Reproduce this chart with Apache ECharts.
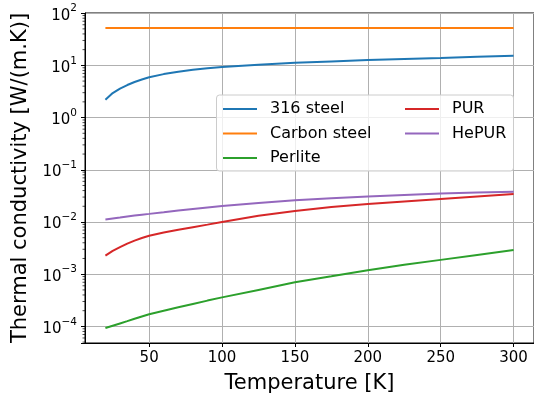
<!DOCTYPE html>
<html><head><meta charset="utf-8">
<script src="https://cdn.jsdelivr.net/npm/echarts@6/dist/echarts.min.js"></script>
<style>html,body{margin:0;padding:0;background:#fff}#c{width:534px;height:399px}</style>
</head><body><div id="c"></div>
<script>
const temperature = [20, 25, 30, 35, 40, 45, 50, 60, 70, 80, 90, 100, 125, 150, 175, 200, 225, 250, 275, 300];
const steel316    = [2.2, 2.95, 3.6, 4.2, 4.8, 5.35, 5.9, 6.8, 7.55, 8.2, 8.8, 9.3, 10.3, 11.2, 11.9, 12.6, 13.3, 13.9, 14.6, 15.3];
const carbonSteel = [52, 52, 52, 52, 52, 52, 52, 52, 52, 52, 52, 52, 52, 52, 52, 52, 52, 52, 52, 52];
const perlite     = [9.3e-5, 1.03e-4, 1.14e-4, 1.26e-4, 1.40e-4, 1.55e-4, 1.71e-4, 2.0e-4, 2.32e-4, 2.69e-4, 3.12e-4, 3.6e-4, 5.0e-4, 6.98e-4, 9.1e-4, 1.19e-3, 1.51e-3, 1.88e-3, 2.34e-3, 2.9e-3];
const pur         = [2.26e-3, 2.8e-3, 3.3e-3, 3.86e-3, 4.4e-3, 4.93e-3, 5.45e-3, 6.3e-3, 7.1e-3, 7.95e-3, 8.9e-3, 0.0100, 0.0132, 0.0163, 0.0193, 0.0220, 0.0248, 0.0277, 0.0309, 0.0344];
const hepur       = [0.0112, 0.0117, 0.0122, 0.0128, 0.0133, 0.0138, 0.0143, 0.0154, 0.0166, 0.0178, 0.0190, 0.0202, 0.0232, 0.0260, 0.0285, 0.0308, 0.0330, 0.0350, 0.0366, 0.038];
const seriesNames = ['316 steel', 'Carbon steel', 'Perlite', 'PUR', 'HePUR'];
const seriesData  = [steel316, carbonSteel, perlite, pur, hepur];
const colors      = ['#1f77b4', '#ff7f0e', '#2ca02c', '#d62728', '#9467bd'];
const xTickValues = [50, 100, 150, 200, 250, 300];
const xRange = [6, 314];
const yRange = [Math.pow(10, -4.318), Math.pow(10, 2.003)];

const FONT = 'DejaVu Sans';
const chart = echarts.init(document.getElementById('c'), null, {renderer: 'canvas'});

function supLabel(v) {
  const e = Math.log10(v);
  const r = Math.round(e);
  if (Math.abs(e - r) > 1e-6) return '';
  const s = r < 0 ? '\u2212' + (-r) : String(r);
  return '{b|10}{s|' + s + '}';
}

const legendCommon = {
  orient: 'vertical', top: 101, padding: 0,
  itemWidth: 34, itemHeight: 14, itemGap: 8.5,
  itemStyle: {opacity: 0, borderWidth: 0},
  textStyle: {fontFamily: FONT, fontSize: 16, color: '#000', padding: [0, 0, 0, 8]}
};

const option = {
  animation: false,
  backgroundColor: '#fff',
  grid: {left: 85, top: 13, right: -1, bottom: 51, show: true, borderColor: '#000', borderWidth: 1, containLabel: false},
  xAxis: {
    type: 'value', min: xRange[0], max: xRange[1],
    name: 'Temperature [K]', nameLocation: 'middle', nameGap: 30,
    nameTextStyle: {fontFamily: FONT, fontSize: 21, color: '#000'},
    axisLine: {show: true, onZero: false, lineStyle: {color: '#000', width: 1}},
    axisTick: {show: true, length: 4, lineStyle: {color: '#000', width: 1}, customValues: xTickValues},
    axisLabel: {fontFamily: FONT, fontSize: 15, color: '#000', margin: 8, customValues: xTickValues,
      formatter: v => (xTickValues.indexOf(v) >= 0 ? String(v) : '')},
    splitLine: {show: true, lineStyle: {color: '#b0b0b0', width: 1}},
    splitNumber: 6
  },
  yAxis: {
    type: 'log', logBase: 10, min: yRange[0], max: yRange[1],
    name: 'Thermal conductivity [W/(m.K)]', nameLocation: 'middle', nameGap: 53, nameRotate: 90,
    nameTextStyle: {fontFamily: FONT, fontSize: 21, color: '#000'},
    axisLine: {show: true, onZero: false, lineStyle: {color: '#000', width: 1}},
    axisTick: {show: true, length: 4, lineStyle: {color: '#000', width: 1}},
    axisLabel: {fontFamily: FONT, color: '#000', margin: 8, formatter: supLabel,
      rich: {
        b: {fontFamily: FONT, fontSize: 15, lineHeight: 20, verticalAlign: 'bottom', color: '#000'},
        s: {fontFamily: FONT, fontSize: 10.5, lineHeight: 12, verticalAlign: 'top', color: '#000'}
      }},
    splitLine: {show: true, lineStyle: {color: '#b0b0b0', width: 1}}
  },
  legend: [
    Object.assign({data: seriesNames.slice(0, 3), left: 222}, legendCommon),
    Object.assign({data: seriesNames.slice(3), left: 404}, legendCommon)
  ],
  graphic: [{
    type: 'rect', z: 3, shape: {x: 216.5, y: 95, width: 297, height: 76, r: 3},
    style: {fill: 'rgba(255,255,255,0.8)', stroke: '#cccccc', lineWidth: 1}
  }],
  series: seriesNames.map((n, i) => ({
    name: n, type: 'line', symbol: 'none', showSymbol: false, smooth: false,
    data: temperature.map((t, k) => [t, seriesData[i][k]]),
    lineStyle: {color: colors[i], width: 2}, itemStyle: {color: colors[i]}, z: 2
  }))
};
chart.setOption(option);

// minor log ticks (2..9 per decade), placed through the y axis scale
const minor = [];
for (let e = -5; e <= 2; e++) {
  for (let d = 2; d <= 9; d++) {
    const v = d * Math.pow(10, e);
    if (v <= yRange[0] || v >= yRange[1]) continue;
    const p = chart.convertToPixel({yAxisIndex: 0}, v);
    minor.push({type: 'line', z: 10, shape: {x1: 85 - 2.5, y1: p, x2: 85, y2: p},
      style: {stroke: '#000', lineWidth: 0.7}});
  }
}
chart.setOption({graphic: option.graphic.concat(minor)});
</script>
</body></html>
